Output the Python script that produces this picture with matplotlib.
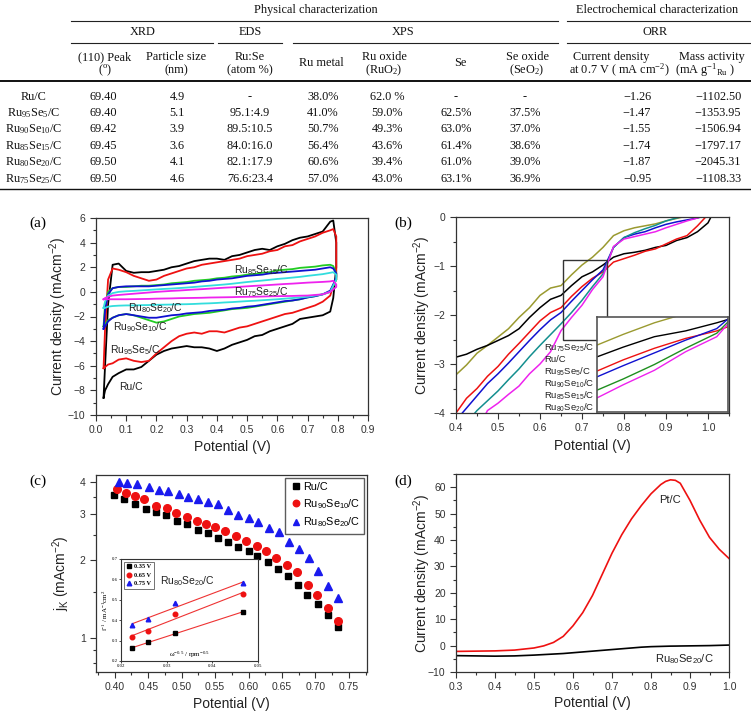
import numpy as np
import matplotlib.pyplot as plt
from matplotlib.patches import Rectangle
from matplotlib.ticker import MultipleLocator, FixedLocator, NullFormatter

plt.rcParams['font.family'] = ['Liberation Sans', 'DejaVu Sans']
plt.rcParams['mathtext.default'] = 'regular'

# ---------------- table data ----------------
samples = ['Ru/C', 'Ru$_{95}$Se$_{5}$/C', 'Ru$_{90}$Se$_{10}$/C',
           'Ru$_{85}$Se$_{15}$/C', 'Ru$_{80}$Se$_{20}$/C', 'Ru$_{75}$Se$_{25}$/C']
peak_110 = ['69.40', '69.40', '69.42', '69.45', '69.50', '69.50']
particle_size = ['4.9', '5.1', '3.9', '3.6', '4.1', '4.6']
ru_se = ['-', '95.1:4.9', '89.5:10.5', '84.0:16.0', '82.1:17.9', '76.6:23.4']
ru_metal = ['38.0%', '41.0%', '50.7%', '56.4%', '60.6%', '57.0%']
ru_oxide = ['62.0 %', '59.0%', '49.3%', '43.6%', '39.4%', '43.0%']
se_metal = ['-', '62.5%', '63.0%', '61.4%', '61.0%', '63.1%']
se_oxide = ['-', '37.5%', '37.0%', '38.6%', '39.0%', '36.9%']
current_07 = [-1.26, -1.47, -1.55, -1.74, -1.87, -0.95]
mass_activity = [-1102.50, -1353.95, -1506.94, -1797.17, -2045.31, -1108.33]

# ---------------- (a) CV data ----------------
pot_a = [0.025, 0.03, 0.04, 0.055, 0.075, 0.1, 0.125, 0.15, 0.175, 0.2, 0.225, 0.25,
         0.275, 0.3, 0.325, 0.35, 0.375, 0.4, 0.425, 0.45, 0.475, 0.5, 0.525, 0.55,
         0.575, 0.6, 0.625, 0.65, 0.675, 0.7, 0.725, 0.75, 0.775, 0.785, 0.795]
ruc_up = [-8.6, -6.0, -1.0, 2.2, 2.3, 1.7, 1.55, 1.6, 1.6, 1.7, 1.8, 2.0, 2.1, 2.3, 2.5,
          2.6, 2.7, 2.7, 2.6, 2.9, 3.0, 3.2, 3.4, 3.5, 3.4, 3.7, 3.9, 4.2, 4.4, 4.5,
          4.7, 4.9, 5.7, 5.8, 4.0]
ruc_dn = [-8.6, -8.0, -7.5, -6.9, -6.6, -6.3, -6.3, -6.1, -5.6, -5.1, -4.8, -4.6, -4.5,
          -4.4, -4.5, -4.5, -4.6, -4.8, -4.6, -4.3, -4.1, -3.9, -3.6, -3.5, -3.2, -3.0,
          -2.8, -2.6, -2.2, -2.1, -2.0, -1.9, -1.6, -0.5, 2.0]
se5_up = [-6.2, -3.0, 1.0, 1.9, 1.8, 1.6, 1.3, 1.1, 0.9, 1.0, 1.3, 1.5, 1.7, 1.9, 2.0,
          2.2, 2.3, 2.4, 2.5, 2.6, 2.7, 2.9, 3.0, 3.1, 3.3, 3.4, 3.7, 3.8, 4.1, 4.3,
          4.5, 4.8, 5.0, 5.1, 4.5]
se5_dn = [-6.2, -6.1, -5.9, -5.8, -5.5, -5.4, -5.6, -5.7, -5.6, -5.0, -4.5, -4.0, -3.6,
          -3.4, -3.3, -3.4, -3.2, -3.2, -3.3, -3.1, -2.9, -2.8, -2.6, -2.4, -2.2, -2.0,
          -1.8, -1.7, -1.5, -1.3, -1.1, -0.8, -0.3, 0.5, 1.0]
se10_up = [-2.8, -1.0, 0.0, 0.3, 0.4, 0.4, 0.45, 0.5, 0.5, 0.55, 0.6, 0.7, 0.75, 0.8,
           0.9, 0.95, 1.0, 1.1, 1.15, 1.25, 1.3, 1.4, 1.45, 1.55, 1.6, 1.75, 1.8, 1.85,
           1.95, 2.0, 2.05, 2.15, 2.2, 2.1, 1.5]
se10_dn = [-2.8, -2.6, -2.3, -2.1, -1.9, -1.8, -1.9, -2.1, -2.3, -2.5, -2.4, -2.2, -2.0,
           -1.9, -1.8, -1.75, -1.7, -1.6, -1.5, -1.4, -1.35, -1.3, -1.2, -1.1, -1.0,
           -0.9, -0.8, -0.7, -0.6, -0.45, -0.35, -0.2, 0.0, 0.5, 1.0]
se15_up = [-3.0, -1.5, -0.2, 0.3, 0.4, 0.45, 0.45, 0.45, 0.45, 0.5, 0.55, 0.6, 0.65,
           0.7, 0.75, 0.85, 0.9, 1.0, 1.05, 1.1, 1.2, 1.3, 1.35, 1.4, 1.5, 1.55, 1.6,
           1.65, 1.7, 1.75, 1.8, 1.9, 2.0, 1.9, 1.5]
se15_dn = [-3.0, -2.8, -2.4, -2.1, -1.9, -1.8, -1.9, -2.0, -2.1, -2.1, -2.0, -1.9, -1.85,
           -1.75, -1.7, -1.65, -1.55, -1.5, -1.45, -1.35, -1.3, -1.2, -1.15, -1.05,
           -0.95, -0.85, -0.75, -0.7, -0.6, -0.45, -0.35, -0.2, 0.1, 0.6, 1.2]
se20_up = [-1.3, -0.8, -0.3, -0.1, 0.0, 0.05, 0.08, 0.12, 0.16, 0.2, 0.24, 0.27, 0.31,
           0.35, 0.4, 0.45, 0.5, 0.55, 0.6, 0.66, 0.73, 0.8, 0.86, 0.92, 0.98, 1.05,
           1.1, 1.16, 1.22, 1.3, 1.37, 1.44, 1.55, 1.6, 1.4]
se20_dn = [-1.3, -1.3, -1.2, -1.15, -1.12, -1.1, -1.1, -1.08, -1.07, -1.05, -1.04, -1.03,
           -1.01, -1.0, -0.98, -0.95, -0.93, -0.9, -0.86, -0.83, -0.79, -0.75, -0.72,
           -0.68, -0.64, -0.6, -0.55, -0.5, -0.45, -0.4, -0.3, -0.2, 0.0, 0.5, 1.0]
se25_up = [-0.6, -0.5, -0.4, -0.3, -0.25, -0.2, -0.15, -0.1, -0.05, 0.0, 0.04, 0.08,
           0.11, 0.15, 0.19, 0.22, 0.26, 0.3, 0.34, 0.37, 0.41, 0.45, 0.49, 0.52, 0.56,
           0.6, 0.64, 0.67, 0.71, 0.75, 0.78, 0.81, 0.85, 0.9, 0.6]
se25_dn = [-0.6, -0.6, -0.6, -0.6, -0.6, -0.6, -0.59, -0.58, -0.57, -0.55, -0.54, -0.53,
           -0.51, -0.5, -0.49, -0.48, -0.46, -0.45, -0.44, -0.43, -0.41, -0.4, -0.39,
           -0.38, -0.36, -0.35, -0.34, -0.33, -0.31, -0.3, -0.25, -0.2, 0.0, 0.2, 0.4]

# ---------------- (b) LSV data ----------------
pot_b = [0.400, 0.425, 0.450, 0.475, 0.500, 0.525, 0.550, 0.575, 0.600, 0.625, 0.650,
         0.675, 0.700, 0.725, 0.750, 0.775, 0.800, 0.825, 0.850, 0.875, 0.900, 0.925,
         0.950, 0.975, 1.000, 1.010]
lsv_se25 = [-3.22, -3.02, -2.78, -2.62, -2.45, -2.28, -2.05, -1.85, -1.60, -1.45, -1.40,
            -1.18, -0.98, -0.82, -0.62, -0.38, -0.28, -0.22, -0.18, -0.14, -0.08, -0.03,
            0.02, 0.05, 0.08, 0.1]
lsv_ruc = [-2.86, -2.80, -2.70, -2.62, -2.52, -2.42, -2.28, -2.05, -1.85, -1.68, -1.60,
           -1.40, -1.22, -1.12, -0.98, -0.82, -0.75, -0.72, -0.68, -0.62, -0.58, -0.48,
           -0.42, -0.30, -0.12, 0.05]
lsv_se5 = [-4.00, -3.70, -3.50, -3.25, -3.05, -2.80, -2.58, -2.35, -2.12, -1.95, -1.85,
           -1.62, -1.42, -1.25, -1.12, -0.92, -0.85, -0.78, -0.70, -0.65, -0.55, -0.45,
           -0.38, -0.18, 0.05, 0.1]
lsv_se10 = [-4.15, -3.90, -3.65, -3.40, -3.20, -2.98, -2.75, -2.52, -2.30, -2.10, -1.95,
            -1.72, -1.50, -1.28, -1.08, -0.62, -0.42, -0.35, -0.30, -0.22, -0.15, -0.10,
            -0.06, -0.02, 0.05, 0.1]
lsv_se15 = [-4.45, -4.20, -3.95, -3.75, -3.55, -3.32, -3.10, -2.85, -2.62, -2.40, -2.18,
            -1.95, -1.70, -1.42, -1.16, -0.62, -0.42, -0.32, -0.24, -0.17, -0.08, -0.02,
            0.03, 0.06, 0.08, 0.1]
lsv_se20 = [-5.00, -4.70, -4.35, -3.95, -3.80, -3.62, -3.45, -3.20, -3.00, -2.75, -2.32,
            -2.05, -1.80, -1.48, -1.22, -0.60, -0.45, -0.40, -0.35, -0.30, -0.22, -0.15,
            -0.08, -0.02, 0.05, 0.1]
b_labels = ['Ru$_{75}$Se$_{25}$/C', 'Ru/C', 'Ru$_{95}$Se$_{5}$/C', 'Ru$_{90}$Se$_{10}$/C',
            'Ru$_{85}$Se$_{15}$/C', 'Ru$_{80}$Se$_{20}$/C']

# ---------------- (c) kinetic current ----------------
pot_c_ruc = [0.399, 0.414, 0.430, 0.446, 0.461, 0.477, 0.493, 0.508, 0.525, 0.539, 0.555,
             0.569, 0.584, 0.600, 0.613, 0.629, 0.644, 0.659, 0.674, 0.688, 0.704, 0.718, 0.733]
jk_ruc = [3.56, 3.42, 3.29, 3.15, 3.05, 2.97, 2.83, 2.75, 2.61, 2.54, 2.44, 2.34, 2.25,
          2.16, 2.08, 1.97, 1.85, 1.73, 1.60, 1.47, 1.35, 1.23, 1.10]
pot_c_se10 = [0.403, 0.417, 0.431, 0.444, 0.461, 0.478, 0.492, 0.508, 0.523, 0.536, 0.550,
              0.565, 0.581, 0.596, 0.613, 0.626, 0.641, 0.657, 0.673, 0.689, 0.703, 0.718, 0.733]
jk_se10 = [3.74, 3.63, 3.53, 3.45, 3.24, 3.18, 3.03, 2.93, 2.83, 2.75, 2.68, 2.58, 2.47,
           2.36, 2.27, 2.16, 2.03, 1.91, 1.79, 1.60, 1.47, 1.31, 1.16]
pot_c_se20 = [0.406, 0.419, 0.434, 0.451, 0.466, 0.480, 0.496, 0.510, 0.525, 0.540, 0.554,
              0.570, 0.584, 0.600, 0.614, 0.631, 0.645, 0.660, 0.675, 0.691, 0.704, 0.719, 0.733]
jk_se20 = [4.0, 3.96, 3.91, 3.82, 3.71, 3.69, 3.59, 3.50, 3.43, 3.35, 3.28, 3.12, 2.98,
           2.90, 2.81, 2.65, 2.57, 2.35, 2.20, 2.03, 1.82, 1.59, 1.43]

# Koutecky-Levich inset
kl_w = [0.0225, 0.0260, 0.0318, 0.0468]
kl_035 = [0.262, 0.292, 0.338, 0.440]
kl_065 = [0.320, 0.345, 0.428, 0.530]
kl_075 = [0.375, 0.405, 0.485, 0.580]

# ---------------- (d) ----------------
pot_d = [0.30, 0.35, 0.40, 0.45, 0.50, 0.525, 0.55, 0.575, 0.60, 0.625, 0.65, 0.675, 0.70,
         0.725, 0.75, 0.775, 0.80, 0.825, 0.8375, 0.85, 0.8625, 0.875, 0.90, 0.925, 0.95,
         0.975, 1.00]
d_ptc = [-2.2, -2.1, -2.0, -1.7, -0.9, -0.1, 1.2, 3.5, 7.5, 12.5, 19.0, 27.0, 35.0, 42.0,
         48.0, 53.0, 57.5, 61.0, 62.2, 62.8, 62.6, 61.5, 55.0, 47.5, 41.0, 36.5, 33.0]
d_se20 = [-3.8, -3.9, -4.0, -3.9, -3.6, -3.4, -3.2, -3.0, -2.7, -2.4, -2.1, -1.8, -1.5,
          -1.2, -0.9, -0.6, -0.4, -0.3, -0.25, -0.2, -0.18, -0.15, -0.1, -0.05, 0.0, 0.1, 0.2]

W, H = 751, 715
fig = plt.figure(figsize=(W / 100, H / 100), dpi=100)


def px_axes(x0, y0, x1, y1):
    return fig.add_axes([x0 / W, 1 - y1 / H, (x1 - x0) / W, (y1 - y0) / H])


def style(ax, xmaj, xmin, ymaj=None, ymin=None):
    for s in ax.spines.values():
        s.set_linewidth(0.9)
        s.set_color('#333333')
    ax.xaxis.set_major_locator(MultipleLocator(xmaj))
    ax.xaxis.set_minor_locator(MultipleLocator(xmin))
    if ymaj is not None:
        ax.yaxis.set_major_locator(MultipleLocator(ymaj))
        ax.yaxis.set_minor_locator(MultipleLocator(ymin))
    ax.tick_params(which='both', direction='out', top=False, right=False,
                   labelsize=7.5, colors='#333333', width=0.8)
    ax.tick_params(which='major', length=4)
    ax.tick_params(which='minor', length=2)


def labels(ax, xl, yl, xpos, ypos):
    ax.set_xlabel(xl, fontsize=10, color='#222222')
    ax.set_ylabel(yl, fontsize=10, color='#222222')
    ax.xaxis.set_label_coords(0.5, xpos)
    ax.yaxis.set_label_coords(ypos, 0.5)
    ax.xaxis.label.set_verticalalignment('center')
    ax.yaxis.label.set_verticalalignment('center')


# ---------------- table ----------------
tab = px_axes(0, 0, W, 192)
tab.set_xlim(0, W)
tab.set_ylim(192, 0)
tab.axis('off')
serif = ['Liberation Serif', 'DejaVu Serif']
tfs = 8.8


def ttext(x, y, s):
    tab.text(x, y, s, ha='center', va='center', fontsize=tfs, family=serif, color='#111111')


ttext(316, 10, 'Physical characterization')
ttext(657, 10, 'Electrochemical characterization')
for x0, x1 in [(71, 558), (567, W)]:
    tab.plot([x0, x1], [20.7, 20.7], color='#222222', lw=0.8)
ttext(143, 32, 'XRD')
ttext(250, 32, 'EDS')
ttext(403, 32, 'XPS')
ttext(655, 32, 'ORR')
for x0, x1 in [(71, 213), (218, 282), (293, 558), (567, W)]:
    tab.plot([x0, x1], [43.3, 43.3], color='#222222', lw=0.8)

two_line = [(105, '(110) Peak', '($^{o}$)'), (176, 'Particle size', '(nm)'),
            (250, 'Ru:Se', '(atom %)'), (384, 'Ru oxide', '(RuO$_{2}$)'),
            (527, 'Se oxide', '(SeO$_{2}$)'), (611, 'Current density', ''),
            (712, 'Mass activity', '')]
for x, a, b in two_line:
    ttext(x, 57, a)
    if b:
        ttext(x, 70.5, b)
ttext(619, 70.5, 'at 0.7 V ( mA cm$^{-2}$)')
ttext(705, 70.5, '(mA g$^{-1}$$_{Ru}$ )')
ttext(321, 63.5, 'Ru metal')
ttext(460, 63.5, 'Se')
tab.plot([0, W], [80.5, 80.5], color='#111111', lw=1.4)
tab.plot([0, W], [188.5, 188.5], color='#111111', lw=1.0)

col_x = [34, 103, 177, 250, 323, 387, 456, 525, 637, 718]
row_y = [96.7, 113.0, 129.4, 145.8, 162.2, 178.6]
for i, y in enumerate(row_y):
    vals = [samples[i], peak_110[i], particle_size[i], ru_se[i], ru_metal[i],
            ru_oxide[i], se_metal[i], se_oxide[i],
            '\u2212%.2f' % abs(current_07[i]), '\u2212%.2f' % abs(mass_activity[i])]
    for x, v in zip(col_x, vals):
        ttext(x, y, v)

# ---------------- panel (a) ----------------
ax_a = px_axes(96, 218, 368, 415)
cv_sets = [(ruc_up, ruc_dn, 'black'), (se5_up, se5_dn, '#ee1111'),
           (se10_up, se10_dn, '#22cc22'), (se15_up, se15_dn, '#1010d0'),
           (se20_up, se20_dn, '#33dddd'), (se25_up, se25_dn, '#ee22ee')]
for up, dn, c in cv_sets:
    xs = list(pot_a) + list(pot_a[::-1])
    ys = list(up) + list(dn[::-1])
    ax_a.plot(xs, ys, color=c, lw=1.3)
ax_a.set_xlim(0, 0.9)
ax_a.set_ylim(-10, 6)
style(ax_a, 0.1, 0.05, 2, 1)
ax_a.xaxis.set_major_formatter(plt.FormatStrFormatter('%.1f'))
labels(ax_a, 'Potential (V)', 'Current density (mAcm$^{-2}$)', -0.16, -0.14)
lfs = 7.5
ax_a.text(0.455, 1.8, 'Ru$_{85}$Se$_{15}$/C', fontsize=lfs, va='center', color='#222222')
ax_a.text(0.455, 0.0, 'Ru$_{75}$Se$_{25}$/C', fontsize=lfs, va='center', color='#222222')
ax_a.text(0.107, -1.3, 'Ru$_{80}$Se$_{20}$/C', fontsize=lfs, va='center', color='#222222')
ax_a.text(0.057, -2.9, 'Ru$_{90}$Se$_{10}$/C', fontsize=lfs, va='center', color='#222222')
ax_a.text(0.045, -4.7, 'Ru$_{95}$Se$_{5}$/C', fontsize=lfs, va='center', color='#222222')
ax_a.text(0.078, -7.7, 'Ru/C', fontsize=lfs, va='center', color='#222222')

# ---------------- panel (b) ----------------
ax_b = px_axes(456, 217, 729, 413)
lsv = [lsv_se25, lsv_ruc, lsv_se5, lsv_se10, lsv_se15, lsv_se20]
b_colors = ['#9a9a30', 'black', '#ee1111', '#1010d0', '#138f8f', '#ee22ee']
b_inset_colors = ['#9a9a30', 'black', '#ee1111', '#1010d0', '#1f8f1f', '#ee22ee']
for ys, c in zip(lsv, b_colors):
    ax_b.plot(pot_b, ys, color=c, lw=1.1)
ax_b.set_xlim(0.4, 1.05)
ax_b.set_ylim(-4, 0)
style(ax_b, 0.1, 0.05, 1, 0.5)
ax_b.xaxis.set_major_formatter(plt.FormatStrFormatter('%.1f'))
labels(ax_b, 'Potential (V)', 'Current density (mAcm$^{-2}$)', -0.17, -0.125)
zoom_x = (0.654, 0.759)
zoom_y = (-2.52, -0.88)
ax_b.add_patch(Rectangle((zoom_x[0], zoom_y[0]), zoom_x[1] - zoom_x[0],
                         zoom_y[1] - zoom_y[0], fill=False, ec='#333333', lw=1.0, zorder=5))
for i, lab in enumerate(b_labels):
    ax_b.text(0.61, -2.66 - 0.245 * i, lab, fontsize=6.8, va='center', color='#222222')

ins_b = px_axes(597, 317, 728, 412)
for ys, c in zip(lsv, b_inset_colors):
    ins_b.plot(pot_b, ys, color=c, lw=1.0)
ins_b.set_xlim(*zoom_x)
ins_b.set_ylim(*zoom_y)
ins_b.set_xticks([])
ins_b.set_yticks([])
for s in ins_b.spines.values():
    s.set_color('#555555')
    s.set_linewidth(1.2)

# ---------------- panel (c) ----------------
ax_c = px_axes(96, 475, 367, 672)
ax_c.plot(pot_c_ruc, jk_ruc, 's', color='black', ms=5, label='Ru/C')
ax_c.plot(pot_c_se10, jk_se10, 'o', color='#ee1111', ms=5.5, label='Ru$_{90}$Se$_{10}$/C')
ax_c.plot(pot_c_se20, jk_se20, '^', color='#1a1aee', ms=5.5, label='Ru$_{80}$Se$_{20}$/C')
ax_c.set_yscale('log')
ax_c.set_xlim(0.372, 0.777)
ax_c.set_ylim(0.74, 4.25)
style(ax_c, 0.05, 0.025)
ax_c.yaxis.set_major_locator(FixedLocator([1, 2, 3, 4]))
ax_c.yaxis.set_major_formatter(plt.FixedFormatter(['1', '2', '3', '4']))
ax_c.yaxis.set_minor_locator(FixedLocator([0.8, 0.9, 1.5, 2.5, 3.5]))
ax_c.yaxis.set_minor_formatter(NullFormatter())
ax_c.xaxis.set_major_formatter(plt.FormatStrFormatter('%.2f'))
labels(ax_c, 'Potential (V)', 'j$_{K}$ (mAcm$^{-2}$)', -0.16, -0.13)
leg = ax_c.legend(loc='upper right', fontsize=7.8, frameon=True, fancybox=False,
                  edgecolor='#333333', borderaxespad=0.25, handletextpad=0.1,
                  handlelength=1.1, labelspacing=0.45, borderpad=0.4, markerscale=0.85)
leg.get_frame().set_linewidth(1.0)

ins_c = px_axes(121, 559, 258, 661)
ins_c.plot(kl_w, kl_035, 's', color='black', ms=3, label='0.35 V')
ins_c.plot(kl_w, kl_065, 'o', color='#ee1111', ms=3.3, label='0.65 V')
ins_c.plot(kl_w, kl_075, '^', color='#1a1aee', ms=3.3, label='0.75 V')
for ys in [kl_035, kl_065, kl_075]:
    k, b0 = np.polyfit(kl_w, ys, 1)
    xx = np.array([kl_w[0], kl_w[-1]])
    ins_c.plot(xx, k * xx + b0, color='#ee3333', lw=0.8, zorder=1)
ins_c.set_xlim(0.02, 0.05)
ins_c.set_ylim(0.2, 0.7)
ins_c.set_xticks([0.02, 0.03, 0.04, 0.05])
ins_c.set_yticks([0.2, 0.3, 0.4, 0.5, 0.6, 0.7])
ins_c.tick_params(labelsize=3.5, length=1.5, width=0.5, pad=1)
for t in ins_c.get_xticklabels() + ins_c.get_yticklabels():
    t.set_family(serif)
for s in ins_c.spines.values():
    s.set_linewidth(0.8)
    s.set_color('#333333')
ins_c.set_ylabel('i$^{-1}$ / mA$^{-1}$cm$^{2}$', fontsize=5, family=serif, labelpad=1)
ins_c.text(0.035, 0.23, '\u03c9$^{-0.5}$ / rpm$^{-0.5}$', fontsize=5, family=serif,
           ha='center', va='center')
ins_c.text(0.0345, 0.59, 'Ru$_{80}$Se$_{20}$/C', fontsize=7.5, ha='center', va='center',
           color='#222222')
lg2 = ins_c.legend(loc='upper left', prop={'family': serif, 'size': 4.5, 'weight': 'bold'},
                   frameon=True, fancybox=False, edgecolor='#333333', borderaxespad=0.4,
                   handletextpad=0.3, handlelength=1.0, labelspacing=0.5)
lg2.get_frame().set_linewidth(0.6)

# ---------------- panel (d) ----------------
ax_d = px_axes(456, 474, 729, 672)
ax_d.plot(pot_d, d_ptc, color='#ee1111', lw=1.2)
ax_d.plot(pot_d, d_se20, color='black', lw=1.2)
ax_d.set_xlim(0.3, 1.0)
ax_d.set_ylim(-10, 65)
style(ax_d, 0.1, 0.05, 10, 5)
ax_d.xaxis.set_major_formatter(plt.FormatStrFormatter('%.1f'))
labels(ax_d, 'Potential (V)', 'Current density (mAcm$^{-2}$)', -0.155, -0.125)
ax_d.text(0.85, 55, 'Pt/C', fontsize=8, ha='center', va='center', color='#222222')
ax_d.text(0.885, -5, 'Ru$_{80}$Se$_{20}$/C', fontsize=8, ha='center', va='center',
          color='#222222')

# panel letters
for lab, x, y in [('(a)', 38, 223), ('(b)', 403, 223), ('(c)', 38, 481), ('(d)', 403, 481)]:
    fig.text(x / W, 1 - y / H, lab, fontsize=11, family=serif, ha='center', va='center')

fig.savefig('out.png', dpi=100)
